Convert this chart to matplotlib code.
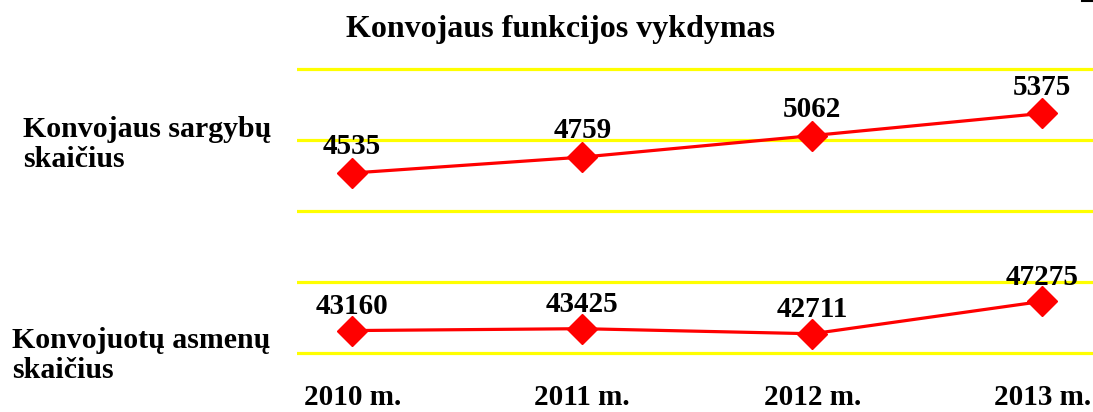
import matplotlib
matplotlib.use("Agg")
import matplotlib.pyplot as plt
from matplotlib.lines import Line2D

plt.rcParams["font.family"] = ["Liberation Serif", "DejaVu Serif"]
plt.rcParams["font.weight"] = "bold"

years = ["2010 m.", "2011 m.", "2012 m.", "2013 m."]
guards = [4535, 4759, 5062, 5375]
persons = [43160, 43425, 42711, 47275]

title = "Konvojaus funkcijos vykdymas"
label_top = "Konvojaus sargybų\nskaičius"
label_bottom = "Konvojuotų asmenų\nskaičius"

W, H = 1093, 412
fig = plt.figure(figsize=(W / 100, H / 100), dpi=100)


def box(x0, x1, ytop, ybot):
    # pixel box -> figure fraction [left, bottom, width, height]
    return [x0 / W, 1 - ybot / H, (x1 - x0) / W, (ybot - ytop) / H]


ax_top = fig.add_axes(box(297, 1093, 61.9, 218.1))
ax_bot = fig.add_axes(box(297, 1093, 274.9, 360.1))

RED = "#ff0000"
YELLOW = "#ffff00"
FS = 21

x = list(range(len(years)))
for ax, vals, lim, ticks, off in [
    (ax_top, guards, (3900, 6100), [4000, 5000, 6000], 13.5),
    (ax_bot, persons, (39000, 51000), [40000, 50000], 12),
]:
    ax.plot(x, vals, color=RED, lw=2.3, marker="D", markersize=15,
            markerfacecolor=RED, markeredgecolor=RED, zorder=3)
    for xi, v in zip(x, vals):
        ax.annotate(str(v), (xi, v), xytext=(0, off), textcoords="offset points",
                    ha="center", va="baseline", fontsize=FS, fontweight="bold",
                    zorder=4)
    ax.set_xlim(-0.24, 3.22)
    ax.set_ylim(*lim)
    ax.set_yticks(ticks)
    ax.yaxis.grid(True, color=YELLOW, lw=2.3)
    ax.set_axisbelow(True)
    ax.tick_params(axis="y", left=False, labelleft=False)
    for s in ax.spines.values():
        s.set_visible(False)
    ax.patch.set_alpha(0)

ax_top.set_xticks([])
ax_bot.set_xticks(x)
ax_bot.set_xticklabels(years, fontsize=FS, fontweight="bold")
ax_bot.tick_params(axis="x", length=0, pad=17.5)

fig.text(561 / W, 1 - 37 / H, title, ha="center", va="baseline",
         fontsize=23, fontweight="bold")
fig.text(23 / W, 1 - 167 / H, label_top, ha="left", va="baseline",
         fontsize=21.5, fontweight="bold", linespacing=1.15)
fig.text(12 / W, 1 - 378 / H, label_bottom, ha="left", va="baseline",
         fontsize=21.5, fontweight="bold", linespacing=1.15)

fig.add_artist(Line2D([1082 / W, 1093 / W], [1 - 1 / H, 1 - 1 / H],
                      color="black", lw=1.5))

fig.savefig("out.png", dpi=100)
